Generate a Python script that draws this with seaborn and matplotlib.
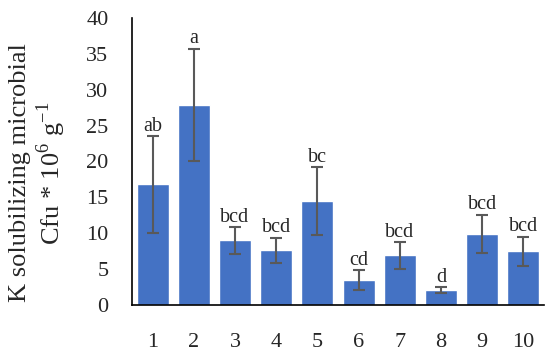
import matplotlib
matplotlib.use("Agg")
import matplotlib.pyplot as plt
import seaborn as sns
import pandas as pd
import numpy as np

categories = ["1", "2", "3", "4", "5", "6", "7", "8", "9", "10"]
values = [16.8, 27.9, 9.0, 7.6, 14.5, 3.5, 6.9, 2.1, 9.9, 7.5]
errors = [6.7, 7.8, 1.85, 1.8, 4.75, 1.35, 1.85, 0.4, 2.7, 2.0]
letters = ["ab", "a", "bcd", "bcd", "bc", "cd", "bcd", "d", "bcd", "bcd"]

sns.set_style("white")
plt.rcParams["font.family"] = ["Liberation Serif", "DejaVu Serif"]
plt.rcParams["mathtext.fontset"] = "custom"
plt.rcParams["mathtext.rm"] = "Liberation Serif"

df = pd.DataFrame({"cat": categories, "val": values})

fig = plt.figure(figsize=(5.5, 3.53), dpi=100)
ax = fig.add_axes([0.24, 0.136, 0.749, 0.813])
sns.barplot(data=df, x="cat", y="val", color="#4472C4", saturation=1,
            width=0.78, ax=ax, errorbar=None)
xs = np.arange(len(categories))
ax.errorbar(xs, values, yerr=errors, fmt="none", ecolor="#595959",
            elinewidth=1.5, capsize=4.3, capthick=1.5)
for x, v, e, t in zip(xs, values, errors, letters):
    ax.text(x, v + e + 0.05, t, ha="center", va="bottom", fontsize=14.5)

ax.set_ylim(0, 40)
ax.set_xlim(-0.5, 9.5)
ax.set_yticks(range(0, 41, 5))
ax.tick_params(axis="both", labelsize=16, length=0)
ax.tick_params(axis="y", pad=17)
ax.tick_params(axis="x", pad=20)
ax.set_xlabel("")
ax.set_ylabel("K solubilizing microbial\nCfu * 10$^{6}$ g$^{-1}$", fontsize=19,
              linespacing=1.15)
ax.yaxis.set_label_coords(-0.155, 0.46)
for s in ["top", "right"]:
    ax.spines[s].set_visible(False)
for s in ["left", "bottom"]:
    ax.spines[s].set_color("black")
    ax.spines[s].set_linewidth(1.2)

fig.savefig("out.png", dpi=100)
